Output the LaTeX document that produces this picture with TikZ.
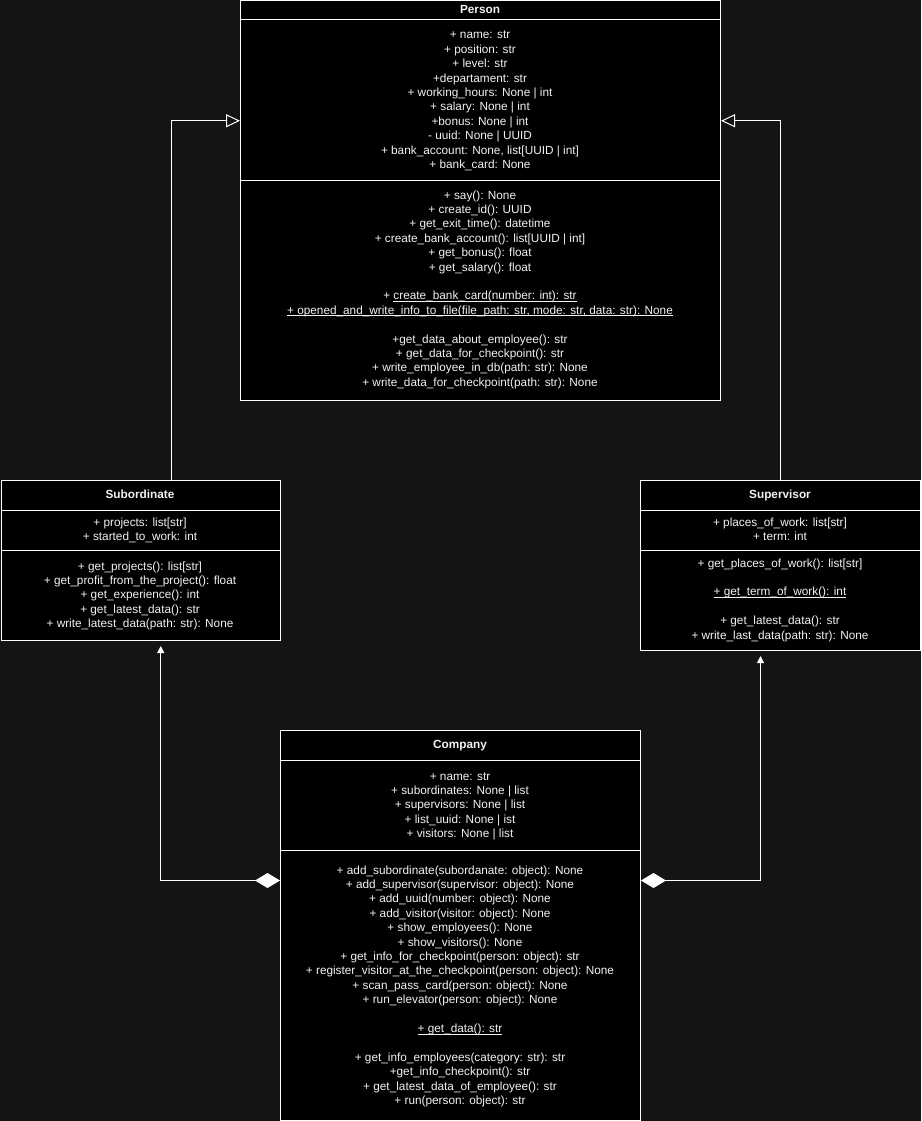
\documentclass[tikz,border=0pt]{standalone}
\usepackage{fontspec}
\setmainfont{Liberation Sans}
\usetikzlibrary{arrows.meta}
\definecolor{canvas}{HTML}{141414}
\definecolor{ink}{HTML}{F2F2F2}

\tikzset{
  classbox/.style={draw=white, fill=black, line width=1pt, inner sep=0pt, anchor=north west},
  member/.style={anchor=base, inner sep=0pt, text=ink, font=\fontsize{11.8}{14}\selectfont},
  classtitle/.style={member, font=\fontsize{11.8}{14}\selectfont\bfseries},
  sepline/.style={draw=white, line width=1pt},
  wire/.style={draw=white, line width=1pt},
  inherit/.style={wire, -{Triangle[open, fill=canvas, length=14pt, width=13pt]}},
  compose/.style={wire, {Diamond[length=25pt, width=15pt, fill=white]}-{Triangle[length=7pt, width=7pt]}}
}

% underline sitting close under the baseline
\newcommand\ul[1]{\leavevmode\vtop{\hbox{#1}\kern-1.2pt\hrule height 0.8pt}}

% one block of member lines, 14.4pt apart, centred on x
\newcommand\memberlines[4]{%
  \foreach \t [count=\i from 0] in {#4}
    \node[member] (#1\i) at (#2, #3+14.4*\i) {\t};%
}

\begin{document}
\begin{tikzpicture}[x=1pt, y=-1pt]
\fill[canvas] (0,0) rectangle (921,1121);
\useasboundingbox (0,0) rectangle (921,1121);

% ---------- Person ----------
\node[classbox, minimum width=480pt, minimum height=399.5pt] (person) at (240,0.5) {};
\draw[sepline] (240,20) -- (720,20);
\draw[sepline] (240,180) -- (720,180);
\node[classtitle] (persontitle) at (480,14) {Person};
\memberlines{pa}{480}{39}{
  {+ name: str},
  {+ position: str},
  {+ level: str},
  {+departament: str},
  {+ working\_hours: None | int},
  {+ salary: None | int},
  {+bonus: None | int},
  {- uuid: None | UUID},
  {+ bank\_account: None, list[UUID | int]},
  {+ bank\_card: None}}
\memberlines{pm}{480}{199}{
  {+ say(): None},
  {+ create\_id(): UUID},
  {+ get\_exit\_time(): datetime},
  {+ create\_bank\_account(): list[UUID | int]},
  {+ get\_bonus(): float},
  {+ get\_salary(): float}}
\memberlines{ps}{480}{299.8}{
  {+ \ul{create\_bank\_card(number: int): str}},
  {\ul{+ opened\_and\_write\_info\_to\_file(file\_path: str, mode: str, data: str): None}}}
\memberlines{pd}{480}{343}{
  {+get\_data\_about\_employee(): str},
  {+ get\_data\_for\_checkpoint(): str},
  {+ write\_employee\_in\_db(path: str): None},
  {+ write\_data\_for\_checkpoint(path: str): None}}

% ---------- Subordinate ----------
\node[classbox, minimum width=279.5pt, minimum height=160pt] (sub) at (0.5,480) {};
\draw[sepline] (0.5,510) -- (280,510);
\draw[sepline] (0.5,550) -- (280,550);
\node[classtitle] (subtitle) at (140,498.5) {Subordinate};
\memberlines{sa}{140}{526}{
  {+ projects: list[str]},
  {+ started\_to\_work: int}}
\memberlines{sm}{140}{570}{
  {+ get\_projects(): list[str]},
  {+ get\_profit\_from\_the\_project(): float},
  {+ get\_experience(): int},
  {+ get\_latest\_data(): str},
  {+ write\_latest\_data(path: str): None}}

% ---------- Supervisor ----------
\node[classbox, minimum width=280pt, minimum height=170pt] (sup) at (640,480) {};
\draw[sepline] (640,510) -- (920,510);
\draw[sepline] (640,550) -- (920,550);
\node[classtitle] (suptitle) at (780,498.5) {Supervisor};
\memberlines{va}{780}{526}{
  {+ places\_of\_work: list[str]},
  {+ term: int}}
\node[member] (vm0) at (780,567) {+ get\_places\_of\_work(): list[str]};
\node[member] (vm1) at (780,595.8) {\ul{+ get\_term\_of\_work(): int}};
\memberlines{vl}{780}{624.6}{
  {+ get\_latest\_data(): str},
  {+ write\_last\_data(path: str): None}}

% ---------- Company ----------
\node[classbox, minimum width=360pt, minimum height=390pt] (comp) at (280,730) {};
\draw[sepline] (280,760) -- (640,760);
\draw[sepline] (280,850) -- (640,850);
\node[classtitle] (comptitle) at (460,748.5) {Company};
\memberlines{ca}{460}{780}{
  {+ name: str},
  {+ subordinates: None | list},
  {+ supervisors: None | list},
  {+ list\_uuid: None | ist},
  {+ visitors: None | list}}
\memberlines{cm}{460}{874}{
  {+ add\_subordinate(subordanate: object): None},
  {+ add\_supervisor(supervisor: object): None},
  {+ add\_uuid(number: object): None},
  {+ add\_visitor(visitor: object): None},
  {+ show\_employees(): None},
  {+ show\_visitors(): None},
  {+ get\_info\_for\_checkpoint(person: object): str},
  {+ register\_visitor\_at\_the\_checkpoint(person: object): None},
  {+ scan\_pass\_card(person: object): None},
  {+ run\_elevator(person: object): None}}
\node[member] (cg) at (460,1032.4) {\ul{+ get\_data(): str}};
\memberlines{ci}{460}{1061.2}{
  {+ get\_info\_employees(category: str): str},
  {+get\_info\_checkpoint(): str},
  {+ get\_latest\_data\_of\_employee(): str},
  {+ run(person: object): str}}

% ---------- relations ----------
\draw[inherit] ([xshift=31pt]sub.north) |- ([yshift=80pt]person.west);
\draw[inherit] (sup.north) |- ([yshift=80pt]person.east);
\draw[compose] ([yshift=45pt]comp.west) -| ([xshift=20pt, yshift=-5pt]sub.south);
\draw[compose] ([yshift=45pt]comp.east) -| ([xshift=-20pt, yshift=-5pt]sup.south);
\end{tikzpicture}
\end{document}
